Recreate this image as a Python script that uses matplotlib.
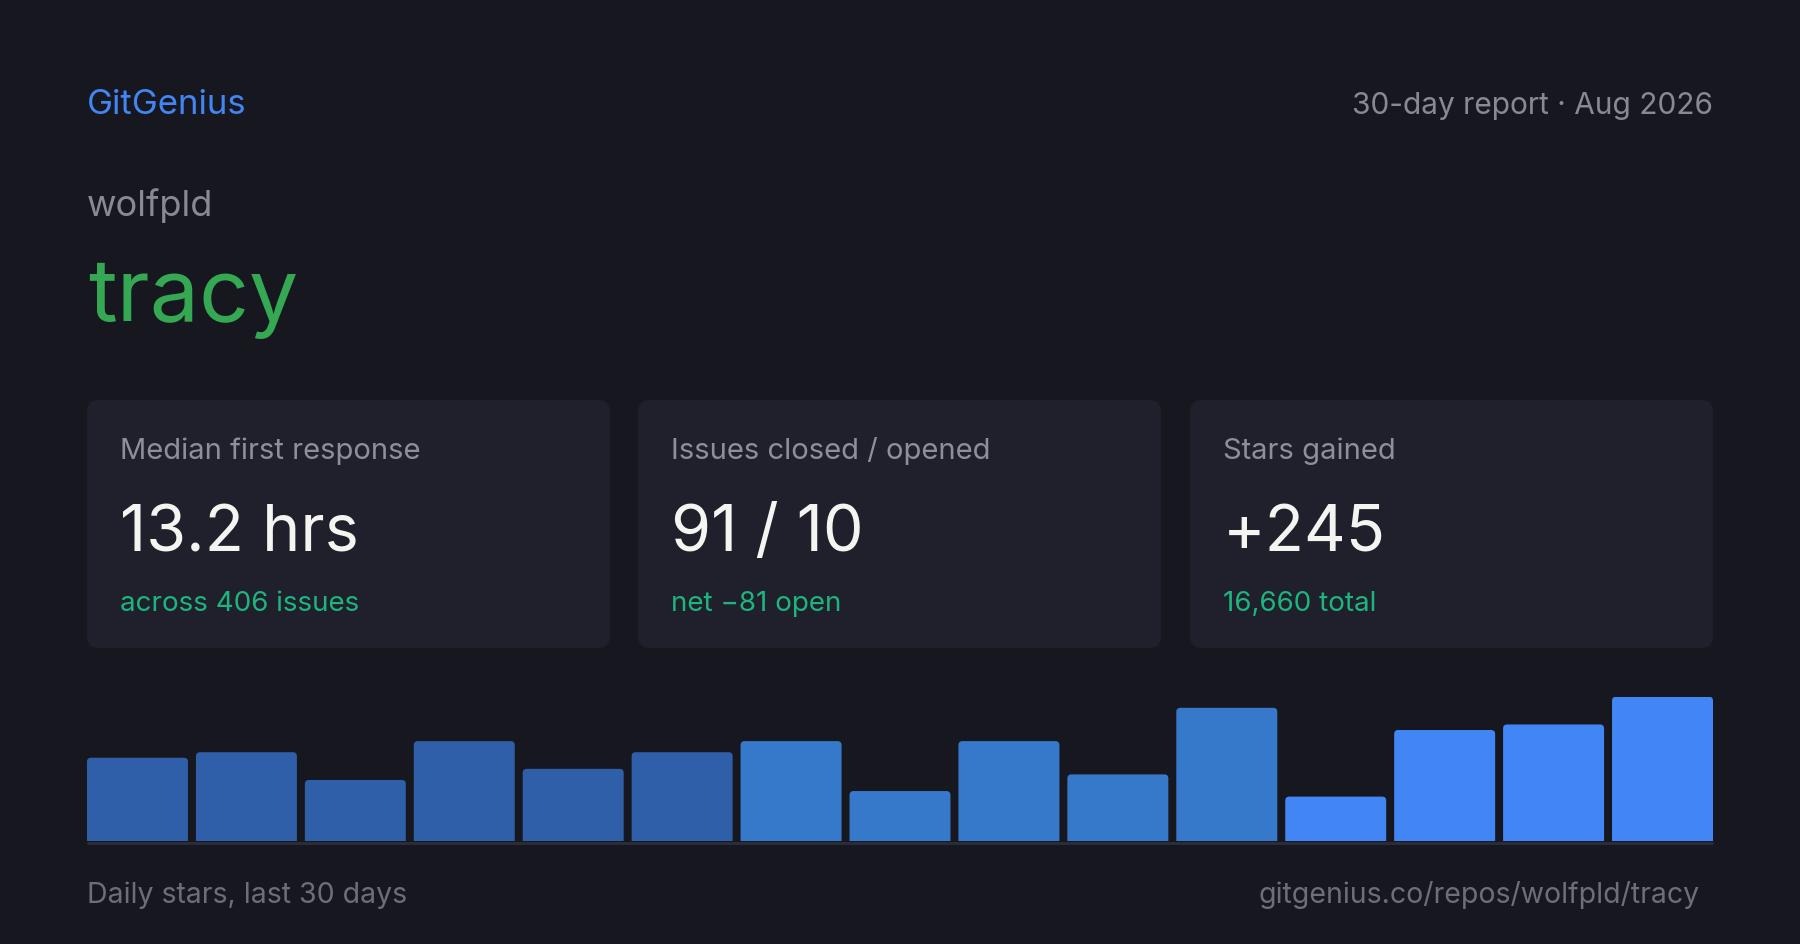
import matplotlib
matplotlib.use("Agg")
import matplotlib.pyplot as plt
from matplotlib.patches import FancyBboxPatch

plt.rcParams['font.family'] = ['Inter', 'DejaVu Sans']

# ---------------- data ----------------
brand = "GitGenius"
report_label = "30-day report · Aug 2026"
owner = "wolfpld"
repo = "tracy"
card_titles = ["Median first response", "Issues closed / opened", "Stars gained"]
card_values = ["13.2 hrs", "91 / 10", "+245"]
card_subs = ["across 406 issues", "net −81 open", "16,660 total"]
daily_stars = [15, 16, 11, 18, 13, 16, 18, 9, 18, 12, 24, 8, 20, 21, 26]
bar_groups = [0, 0, 0, 0, 0, 0, 1, 1, 1, 1, 1, 2, 2, 2, 2]
footer_left = "Daily stars, last 30 days"
footer_right = "gitgenius.co/repos/wolfpld/tracy"

# ---------------- style ----------------
BG = "#16171f"
CARD = "#1f202b"
BLUE = "#4285f4"
GREEN = "#34a853"
TEAL = "#1db57e"
GREY = "#878994"
LABEL = "#8d8f9a"
WHITE = "#f4f4f0"
FOOT = "#6c6e79"
BASE = "#2b2c3a"
group_colors = ["#2e5fa8", "#3678ca", "#4285f4"]

W, H = 1800, 945
fig = plt.figure(figsize=(W / 100, H / 100), dpi=100)
fig.patch.set_facecolor(BG)

bg = fig.add_axes([0, 0, 1, 1])
bg.set_xlim(0, W)
bg.set_ylim(H, 0)
bg.axis("off")
bg.set_facecolor(BG)

# header
bg.text(87, 114, brand, color=BLUE, fontsize=25, ha="left", va="baseline")
bg.text(1713, 114, report_label, color=GREY, fontsize=21.5, ha="right", va="baseline")
bg.text(87, 216, owner, color=GREY, fontsize=26, ha="left", va="baseline")
bg.text(88, 321, repo, color=GREEN, fontsize=63, ha="left", va="baseline")

# cards
card_x = [87, 638, 1190]
card_w = 523
card_top, card_bot = 401, 649
for i in range(3):
    x0 = card_x[i]
    box = FancyBboxPatch((x0, card_top), card_w, card_bot - card_top,
                         boxstyle="round,pad=0,rounding_size=12",
                         facecolor=CARD, edgecolor="none")
    bg.add_patch(box)
    tx = x0 + 33
    bg.text(tx, 459, card_titles[i], color=LABEL, fontsize=21, ha="left", va="baseline")
    bg.text(tx, 551, card_values[i], color=WHITE, fontsize=46.5, ha="left", va="baseline")
    bg.text(tx, 611, card_subs[i], color=TEAL, fontsize=20, ha="left", va="baseline")

# baseline under bars
bg.plot([87, 1713], [843.5, 843.5], color=BASE, lw=2.2, solid_capstyle="butt")

# footer
bg.text(87, 903, footer_left, color=FOOT, fontsize=20.5, ha="left", va="baseline")
bg.text(1700, 903, footer_right, color=FOOT, fontsize=20.5, ha="right", va="baseline")

# ---------------- bar chart ----------------
n = len(daily_stars)
bw = 0.927
ymax = 26
px_per_unit = 5.55
chart_h = ymax * px_per_unit
ax = fig.add_axes([87 / W, (H - 842) / H, 1626 / W, chart_h / H])
ax.set_xlim(-bw / 2, n - 1 + bw / 2)
ax.set_ylim(0, ymax)
ax.axis("off")
ax.patch.set_alpha(0)

colors = [group_colors[g] for g in bar_groups]
bars = ax.bar(range(n), daily_stars, width=bw, color=colors, linewidth=0)

x_px_per_unit = 1626 / (n - 1 + bw)
r_px = 4.0
r_x = r_px / x_px_per_unit
r_y = r_px / px_per_unit
aspect = r_y / r_x
for rect, c in zip(bars, colors):
    rect.set_visible(False)
    fb = FancyBboxPatch((rect.get_x(), -r_y), rect.get_width(), rect.get_height() + r_y,
                        boxstyle=f"round,pad=0,rounding_size={r_x}",
                        mutation_aspect=aspect, facecolor=c, edgecolor="none")
    ax.add_patch(fb)

fig.savefig("out.png", dpi=100, facecolor=BG)
